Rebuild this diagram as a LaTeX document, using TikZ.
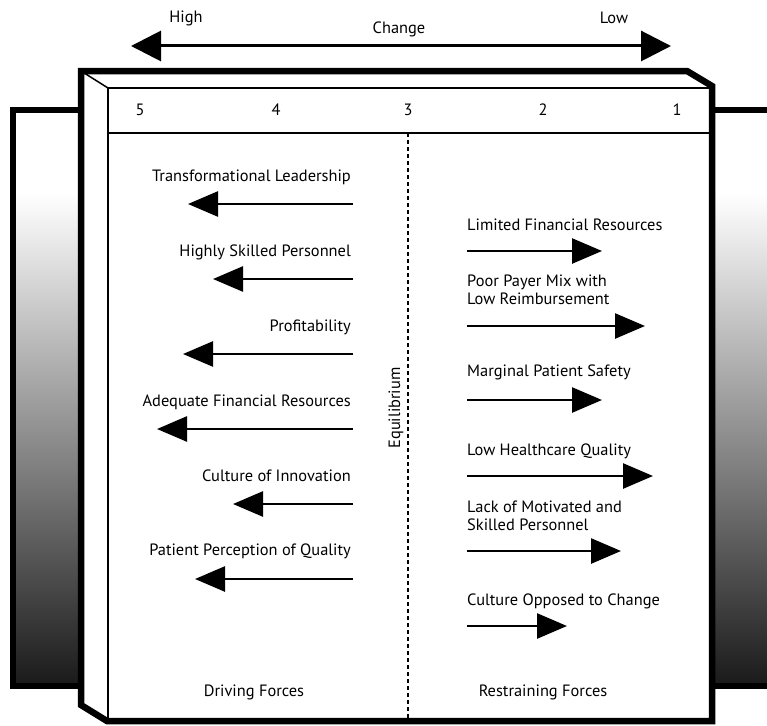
\documentclass[tikz,border=0pt]{standalone}
\usepackage{fontspec}
\setmainfont{PT Sans}
\usetikzlibrary{arrows.meta}
\begin{document}
\begin{tikzpicture}[
        x=1pt, y=-1pt,
        every node/.style={font=\fontsize{16.4}{18}\selectfont, inner sep=0pt},
        frameline/.style={line width=6.5pt, line join=miter},
        thinline/.style={line width=1.5pt},
        force/.style={line width=2.6pt, -{Triangle[length=30pt, width=25pt]}},
        scalearrow/.style={line width=3pt, {Triangle[length=30pt, width=30pt]}-{Triangle[length=30pt, width=30pt]}},
        drive/.style={anchor=east},
        restrain/.style={anchor=west, align=left},
    ]
    \useasboundingbox (0,0) rectangle (767,725);
    % side panels
    \fill[white] (13,110) rectangle (790,686);
    \shade[top color=white, bottom color=black!90] (13,193) rectangle (790,686);
    \draw[frameline] (81,110) -- (13,110) -- (13,686) -- (81,686);
    \draw[frameline] (712,110) -- (790,110);
    \draw[frameline] (712,686) -- (790,686);
    % front frame
    \filldraw[frameline, fill=white] (81,71) -- (687,71) -- (712,86) -- (712,721) -- (107,721) -- (81,705) -- cycle;
    \draw[thinline] (81,71) -- (108,88);
    \draw[thinline] (712,88) -- (108,88) -- (108,721);
    \draw[thinline] (108,133) -- (712,133);
    \draw[thinline, dash pattern=on 4pt off 3pt] (408,133) -- (408,718);
    % change scale
    \node (high) at (186,18) {High};
    \node (change) at (399,29) {Change};
    \node (low) at (614,18) {Low};
    \coordinate (scaleL) at (131,46);
    \coordinate (scaleR) at (671,46);
    \draw[scalearrow] (scaleL) -- (scaleR);
    \node (n5) at (140,110) {5};
    \node (n4) at (276,110) {4};
    \node (n3) at (408,110) {3};
    \node (n2) at (543,110) {2};
    \node (n1) at (677,110) {1};
    \node[rotate=90] (equil) at (396,408) {Equilibrium};
    % driving forces
    \node[drive] (lead) at (351,177) {Transformational Leadership};
    \node[drive] (skill) at (351,252) {Highly Skilled Personnel};
    \node[drive] (profit) at (351,327) {Profitability};
    \node[drive] (fin) at (351,402) {Adequate Financial Resources};
    \node[drive] (innov) at (351,476) {Culture of Innovation};
    \node[drive] (percep) at (351,551) {Patient Perception of Quality};
    \coordinate (lead0) at (353,204);   \coordinate (lead1) at (188,204);
    \coordinate (skill0) at (353,279);  \coordinate (skill1) at (213,279);
    \coordinate (profit0) at (353,354); \coordinate (profit1) at (183,354);
    \coordinate (fin0) at (353,429);    \coordinate (fin1) at (157,429);
    \coordinate (innov0) at (353,504);  \coordinate (innov1) at (233,504);
    \coordinate (percep0) at (353,579); \coordinate (percep1) at (195,579);
    \draw[force] (lead0) -- (lead1);
    \draw[force] (skill0) -- (skill1);
    \draw[force] (profit0) -- (profit1);
    \draw[force] (fin0) -- (fin1);
    \draw[force] (innov0) -- (innov1);
    \draw[force] (percep0) -- (percep1);
    % restraining forces
    \node[restrain] (limfin) at (467,225) {Limited Financial Resources};
    \node[restrain] (payer) at (467,290) {Poor Payer Mix with\\Low Reimbursement};
    \node[restrain] (safety) at (467,372) {Marginal Patient Safety};
    \node[restrain] (qual) at (467,451) {Low Healthcare Quality};
    \node[restrain] (motiv) at (467,516) {Lack of Motivated and\\Skilled Personnel};
    \node[restrain] (oppose) at (467,601) {Culture Opposed to Change};
    \coordinate (limfin0) at (467,251); \coordinate (limfin1) at (602,251);
    \coordinate (payer0) at (467,326);  \coordinate (payer1) at (645,326);
    \coordinate (safety0) at (467,400); \coordinate (safety1) at (602,400);
    \coordinate (qual0) at (467,476);   \coordinate (qual1) at (653,476);
    \coordinate (motiv0) at (467,551);  \coordinate (motiv1) at (621,551);
    \coordinate (oppose0) at (467,626); \coordinate (oppose1) at (567,626);
    \draw[force] (limfin0) -- (limfin1);
    \draw[force] (payer0) -- (payer1);
    \draw[force] (safety0) -- (safety1);
    \draw[force] (qual0) -- (qual1);
    \draw[force] (motiv0) -- (motiv1);
    \draw[force] (oppose0) -- (oppose1);
    \node (driving) at (254,692) {Driving Forces};
    \node (restraining) at (543,692) {Restraining Forces};
\end{tikzpicture}
\end{document}
